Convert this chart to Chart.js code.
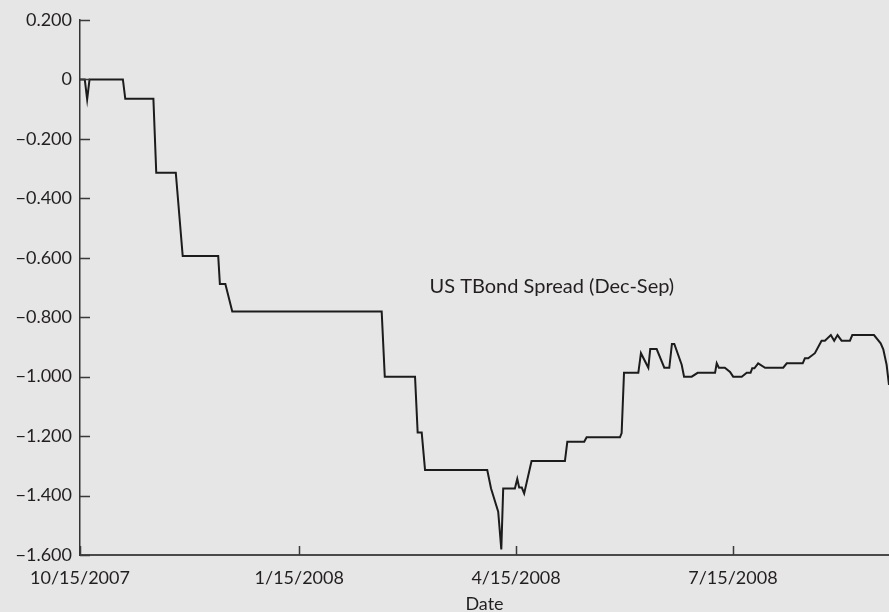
<!DOCTYPE html>
<html>
<head>
<meta charset="utf-8">
<script src="https://cdn.jsdelivr.net/npm/chart.js@4.4.1/dist/chart.umd.min.js"></script>
<style>
  html, body { margin: 0; padding: 0; background: #e6e6e6; }
  #GraficoSpread { display: block; background: #e6e6e6; }
</style>
</head>
<body>
<canvas id="GraficoSpread" width="889" height="612"></canvas>
<script>
// days counted from 10/15/2007
var dias = [0, 2, 3, 4, 18, 19, 30.8, 32, 40.2, 43.1, 58, 58.7, 61, 63.9,
    126.6, 127.9, 140.6, 141.7, 143.4, 144.8, 170.9, 172.5, 175.5, 176.8, 177.6,
    182.5, 183.5, 184.3, 185.4, 186.4, 189.5, 203.5, 204.5, 211.6, 212.6,
    226.6, 227.3, 228.3, 234.3, 235.4, 238.5, 239.3, 242, 245.2, 247.3, 248.4,
    249.4, 252.5, 253.5, 256.7, 259.2, 266.5, 267.2, 268.1, 270.6, 272.8, 274.1,
    277.7, 279.8, 281.4, 282.1, 283, 284.6, 287.5, 295.1, 296.6, 303.3, 304.2,
    305.6, 308.4, 311.2, 312.6, 315.1, 316.5, 317.9, 319.6, 323.1, 324.1, 333.2,
    336, 337.1, 338.5, 339.5];
var spread = [0, 0, -0.067, 0, 0, -0.065, -0.065, -0.314, -0.314, -0.594, -0.594, -0.688, -0.688, -0.781,
    -0.781, -1.0, -1.0, -1.188, -1.188, -1.314, -1.314, -1.376, -1.454, -1.581, -1.376,
    -1.376, -1.344, -1.373, -1.373, -1.393, -1.284, -1.284, -1.219, -1.219, -1.204,
    -1.204, -1.19, -0.987, -0.987, -0.921, -0.97, -0.907, -0.907, -0.97, -0.97, -0.89,
    -0.89, -0.96, -1.0, -1.0, -0.987, -0.987, -0.955, -0.97, -0.97, -0.984, -1.0,
    -1.0, -0.987, -0.987, -0.972, -0.972, -0.955, -0.97, -0.97, -0.955, -0.955, -0.938,
    -0.938, -0.921, -0.879, -0.879, -0.86, -0.879, -0.86, -0.879, -0.879, -0.86, -0.86,
    -0.888, -0.908, -0.96, -1.028];
var diasTicks = [0, 92, 183, 274];
var datasTicks = ["10/15/2007", "1/15/2008", "4/15/2008", "7/15/2008"];
var rotulo = "US TBond Spread (Dec-Sep)";

var fonte = "Lato, 'Open Sans', sans-serif";

function PegarPontos() {
    return dias.map(function (d, i) { return { x: d, y: spread[i] }; });
}

function FormatarValor(v) {
    if (Math.abs(v) < 1e-9) return "0";
    return (v < 0 ? "\u2212" : "") + Math.abs(v).toFixed(3);
}

// inward tick marks + series caption
var marcas = {
    id: "marcas",
    afterDraw: function (chart) {
        var ctx = chart.ctx, area = chart.chartArea;
        var sx = chart.scales.x, sy = chart.scales.y;
        ctx.save();
        ctx.strokeStyle = "#3a3a3a";
        ctx.lineWidth = 1.5;
        ctx.beginPath();
        sy.ticks.forEach(function (t) {
            var y = Math.round(sy.getPixelForValue(t.value)) + 0.5;
            ctx.moveTo(area.left, y);
            ctx.lineTo(area.left + 10, y);
        });
        sx.ticks.forEach(function (t) {
            var x = Math.round(sx.getPixelForValue(t.value)) + 0.5;
            ctx.moveTo(x, area.bottom);
            ctx.lineTo(x, area.bottom - 9);
        });
        ctx.stroke();
        ctx.fillStyle = "#231f20";
        ctx.font = "20px " + fonte;
        ctx.textAlign = "center";
        ctx.textBaseline = "middle";
        ctx.fillText(rotulo, sx.getPixelForValue(198), sy.getPixelForValue(-0.698));
        ctx.restore();
    }
};

new Chart(document.getElementById("GraficoSpread"), {
    type: 'line',
    data: {
        datasets: [{
            label: rotulo,
            data: PegarPontos(),
            borderColor: "#1c1c1c",
            borderWidth: 2,
            pointRadius: 0,
            tension: 0,
            fill: false
        }]
    },
    options: {
        responsive: false,
        animation: false,
        layout: { padding: { top: 20, right: 0, left: 0, bottom: 0 } },
        plugins: {
            legend: { display: false },
            tooltip: { enabled: false }
        },
        scales: {
            x: {
                type: 'linear',
                min: 0,
                max: 339.5,
                afterBuildTicks: function (scale) {
                    scale.ticks = diasTicks.map(function (d) { return { value: d }; });
                },
                afterFit: function (scale) { scale.height = 57; },
                grid: { display: false },
                border: { display: true, color: "#4a4a4a", width: 2 },
                ticks: {
                    autoSkip: false,
                    maxRotation: 0,
                    padding: 4,
                    color: "#231f20",
                    font: { family: fonte, size: 18 },
                    callback: function (v) {
                        var i = diasTicks.indexOf(v);
                        return i >= 0 ? datasTicks[i] : "";
                    }
                },
                title: {
                    display: true,
                    text: "Date",
                    color: "#231f20",
                    font: { family: fonte, size: 18 },
                    padding: { top: 0, bottom: -3 }
                }
            },
            y: {
                min: -1.6,
                max: 0.2,
                afterFit: function (scale) { scale.width = 80; },
                grid: { display: false },
                border: { display: true, color: "#333333", width: 1.5 },
                ticks: {
                    stepSize: 0.2,
                    padding: 0,
                    color: "#231f20",
                    font: { family: fonte, size: 18 },
                    callback: FormatarValor
                }
            }
        }
    },
    plugins: [marcas]
});
</script>
</body>
</html>
